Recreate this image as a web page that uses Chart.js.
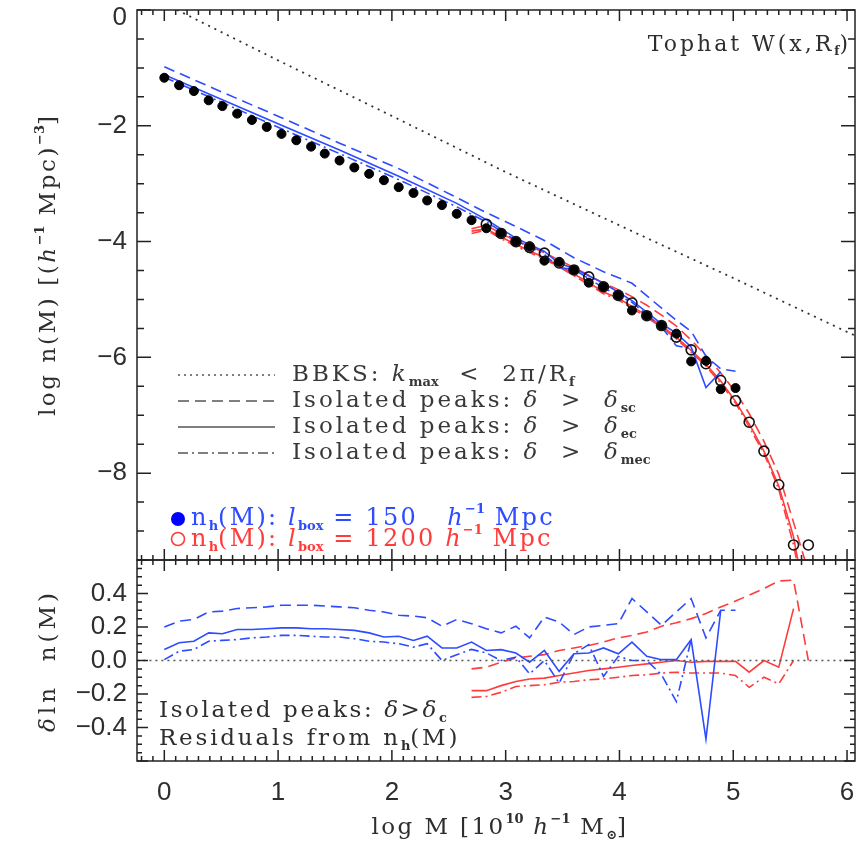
<!DOCTYPE html>
<html>
<head>
<meta charset="utf-8">
<script src="https://cdn.jsdelivr.net/npm/chart.js@4.4.1/dist/chart.umd.min.js"></script>
<style>
  html, body { margin: 0; padding: 0; background: #fff; }
  canvas { display: block; }
</style>
</head>
<body>
<canvas id="grafico" width="856" height="843"></canvas>
<script>
// mass bins, log M [1e10 h^-1 Msun]
const logM = [0.00, 0.13, 0.26, 0.39, 0.51, 0.64, 0.77, 0.90, 1.03, 1.16,
              1.29, 1.41, 1.54, 1.67, 1.80, 1.93, 2.06, 2.19, 2.31, 2.44,
              2.57, 2.70, 2.83, 2.96, 3.09, 3.21, 3.34, 3.47, 3.60, 3.73,
              3.86, 3.99, 4.11, 4.24, 4.37, 4.50, 4.63, 4.76, 4.89, 5.02,
              5.14, 5.27, 5.40, 5.53, 5.66];

// n_h(M), l_box = 150 (bins 0..39)
const nh150 = [-1.17, -1.30, -1.40, -1.56, -1.66, -1.79, -1.90, -2.02, -2.14, -2.25,
               -2.36, -2.48, -2.60, -2.72, -2.83, -2.94, -3.06, -3.16, -3.29, -3.37,
               -3.52, -3.63, -3.77, -3.85, -4.00, -4.08, -4.33, -4.35, -4.49, -4.71,
               -4.78, -4.93, -5.19, -5.28, -5.45, -5.59, -6.07, -6.06, -6.55, -6.53];
// n_h(M), l_box = 1200 (bins 22..44)
const nh1200 = [-3.70, -3.86, -4.00, -4.10, -4.20, -4.37, -4.49, -4.61, -4.78, -4.93,
                -5.06, -5.28, -5.45, -5.65, -5.87, -6.11, -6.40, -6.75, -7.12, -7.62,
                -8.20, -9.24, -9.24];

// BBKS curve
const bbksX = [0.0, 1.0, 2.0, 3.0, 4.0, 5.0, 6.0, 6.2];
const bbksY = [0.11, -0.87, -1.83, -2.80, -3.72, -4.63, -5.56, -5.74];

// isolated peaks, l_box = 150 (upper panel)
const scTopX150  = [0, 0.51, 1.03, 1.54, 2.06, 2.57, 2.83, 3.09, 3.34, 3.60, 3.86, 4.11, 4.37, 4.50, 4.63, 4.76, 4.89, 5.02];
const scTop150   = [-0.98, -1.42, -1.86, -2.30, -2.74, -3.24, -3.50, -3.74, -3.98, -4.28, -4.52, -4.72, -5.15, -5.36, -5.55, -5.98, -6.20, -6.24];
const ecTopX150  = [0, 0.51, 1.03, 1.54, 2.06, 2.57, 2.83, 3.09, 3.34, 3.47, 3.60, 3.86, 4.11, 4.37, 4.50, 4.63, 4.76, 4.89];
const ecTop150   = [-1.12, -1.55, -1.99, -2.42, -2.87, -3.34, -3.62, -3.94, -4.17, -4.38, -4.46, -4.72, -5.02, -5.42, -5.58, -5.82, -6.52, -6.25];
const mecTopX150 = [0, 0.51, 1.03, 1.54, 2.06, 2.57, 2.83, 3.09, 3.34, 3.47, 3.60, 3.86, 4.11, 4.37, 4.50, 4.63];
const mecTop150  = [-1.16, -1.60, -2.05, -2.48, -2.93, -3.40, -3.66, -3.98, -4.22, -4.45, -4.48, -4.80, -5.05, -5.48, -5.80, -5.85];

// isolated peaks, l_box = 1200 (upper panel, bins 21..44)
const scTop1200  = [-3.78, -3.72, -3.86, -3.99, -4.08, -4.19, -4.32, -4.45, -4.58, -4.72, -4.83, -4.95, -5.10, -5.27, -5.46, -5.70, -5.97, -6.27, -6.60, -6.97, -7.45, -8.02, -8.85, -9.70];
const ecTop1200  = [-3.82, -3.78, -3.92, -4.05, -4.16, -4.28, -4.42, -4.56, -4.71, -4.87, -4.98, -5.12, -5.28, -5.45, -5.65, -5.88, -6.12, -6.41, -6.76, -7.15, -7.62, -8.22, -9.10, -10.5];
const mecTop1200 = [-3.86, -3.80, -3.95, -4.08, -4.19, -4.30, -4.44, -4.59, -4.74, -4.90, -5.01, -5.15, -5.31, -5.48, -5.68, -5.91, -6.15, -6.45, -6.79, -7.20, -7.66, -8.28, -9.24, -10.5];

// residuals dln n(M), l_box = 150 (from bin 0)
const scRes150  = [0.20, 0.235, 0.245, 0.29, 0.295, 0.31, 0.315, 0.32, 0.33, 0.33,
                   0.33, 0.325, 0.32, 0.315, 0.30, 0.29, 0.27, 0.265, 0.255, 0.205,
                   0.245, 0.22, 0.19, 0.165, 0.205, 0.135, 0.26, 0.23, 0.155, 0.20,
                   0.21, 0.22, 0.37, 0.29, 0.21, 0.29, 0.37, 0.135, 0.30, 0.30];
const ecRes150  = [0.066, 0.106, 0.115, 0.165, 0.16, 0.185, 0.185, 0.19, 0.195, 0.195,
                   0.19, 0.19, 0.185, 0.18, 0.165, 0.14, 0.145, 0.12, 0.145, 0.075,
                   0.075, 0.11, 0.06, 0.065, 0.045, -0.01, 0.06, -0.065, 0.04, 0.045,
                   0.075, 0.04, 0.11, 0.025, 0.005, 0.005, 0.125, -0.47, 0.30];
const mecRes150 = [0.005, 0.055, 0.066, 0.115, 0.12, 0.125, 0.135, 0.14, 0.15, 0.15,
                   0.145, 0.14, 0.14, 0.13, 0.115, 0.11, 0.10, 0.08, 0.10, 0.0,
                   0.035, 0.066, 0.045, 0.0, 0.02, -0.08, 0.0, -0.135, 0.04, 0.095,
                   -0.095, 0.025, 0.0, 0.0, -0.085, -0.245, 0.125];

// residuals dln n(M), l_box = 1200 (from bin 21)
const scRes1200  = [-0.05, -0.04, -0.01, 0.015, 0.025, 0.035, 0.06, 0.075, 0.09, 0.11,
                    0.135, 0.15, 0.17, 0.205, 0.225, 0.25, 0.28, 0.32, 0.355, 0.39,
                    0.43, 0.475, 0.48, 0.0];
const ecRes1200  = [-0.18, -0.18, -0.15, -0.125, -0.11, -0.105, -0.09, -0.075, -0.06, -0.05,
                    -0.04, -0.03, -0.02, -0.01, 0.0, -0.01, -0.005, -0.005, -0.005, -0.07,
                    0.0, -0.04, 0.31];
const mecRes1200 = [-0.22, -0.215, -0.19, -0.155, -0.15, -0.145, -0.13, -0.125, -0.115, -0.11,
                    -0.10, -0.09, -0.085, -0.075, -0.07, -0.075, -0.075, -0.075, -0.09, -0.16,
                    -0.10, -0.14, 0.0];

const zeroX = [-0.5, 6.5];
const zeroY = [0, 0];

const BLUE = 'rgb(45, 75, 255)';
const RED = 'rgb(255, 60, 60)';
const INK = '#2e2e2e';
const SERIF = '"DejaVu Serif", "Liberation Serif", serif';
const SANS = '"Liberation Sans", Arial, sans-serif';

const DASH = [11, 6];
const DASHDOT = [10, 4, 2, 4];

// pair up x and y arrays, starting at a given bin of logM
function pts(xs, ys) {
    return ys.map((y, i) => ({ x: xs[i], y: y }));
}
function binned(start, ys) {
    return pts(logM.slice(start), ys);
}

function curve(data, axis, color, dash, width) {
    return {
        data: data, yAxisID: axis, showLine: true, borderColor: color,
        borderWidth: width || 1.6, borderDash: dash || [], pointRadius: 0,
        fill: false, tension: 0, order: 5
    };
}

const datasets = [
    curve(pts(bbksX, bbksY), 'yTop', '#333', [2, 5], 1.8),
    curve(pts(scTopX150, scTop150), 'yTop', BLUE, DASH),
    curve(pts(ecTopX150, ecTop150), 'yTop', BLUE),
    curve(pts(mecTopX150, mecTop150), 'yTop', BLUE, DASHDOT),
    curve(binned(21, scTop1200), 'yTop', RED, DASH),
    curve(binned(21, ecTop1200), 'yTop', RED),
    curve(binned(21, mecTop1200), 'yTop', RED, DASHDOT),
    {
        data: binned(0, nh150), yAxisID: 'yTop', showLine: false,
        pointRadius: 4.5, pointBackgroundColor: '#000', pointBorderColor: '#000',
        pointBorderWidth: 1, order: 2
    },
    {
        data: binned(22, nh1200), yAxisID: 'yTop', showLine: false,
        pointRadius: 5, pointBackgroundColor: 'rgba(0,0,0,0)', pointBorderColor: '#111',
        pointBorderWidth: 1.6, order: 1
    },
    curve(pts(zeroX, zeroY), 'yRes', '#555', [2, 4], 1.4),
    curve(binned(0, scRes150), 'yRes', BLUE, DASH),
    curve(binned(0, ecRes150), 'yRes', BLUE),
    curve(binned(0, mecRes150), 'yRes', BLUE, DASHDOT),
    curve(binned(21, scRes1200), 'yRes', RED, DASH),
    curve(binned(21, ecRes1200), 'yRes', RED),
    curve(binned(21, mecRes1200), 'yRes', RED, DASHDOT)
];

// text with italic pieces, sub- and superscripts
// kinds: '' normal, 'i' italic, 'b' subscript, 'p' superscript
function fontFor(k, size, family) {
    if (k === 'b' || k === 'p') return 'bold ' + Math.round(size * 0.55) + 'px ' + family;
    if (k === 'i') return 'italic ' + size + 'px ' + family;
    return size + 'px ' + family;
}
function richWidth(ctx, parts, size, family, spacing) {
    let w = 0;
    for (const [t, k] of parts) {
        ctx.font = fontFor(k, size, family);
        ctx.letterSpacing = (k === 'b' || k === 'p' ? 0 : spacing) + 'px';
        w += ctx.measureText(t).width;
    }
    return w;
}
function richText(ctx, parts, x, y, o) {
    const size = o.size, family = o.family || SERIF, spacing = o.spacing || 0;
    ctx.save();
    ctx.fillStyle = o.color || INK;
    ctx.textBaseline = 'middle';
    ctx.textAlign = 'left';
    let cx = x;
    const w = richWidth(ctx, parts, size, family, spacing);
    if (o.align === 'center') cx = x - w / 2;
    if (o.align === 'right') cx = x - w;
    for (const [t, k] of parts) {
        ctx.font = fontFor(k, size, family);
        ctx.letterSpacing = (k === 'b' || k === 'p' ? 0 : spacing) + 'px';
        let dy = 0;
        if (k === 'b') dy = size * 0.32;
        if (k === 'p') dy = -size * 0.38;
        ctx.fillText(t, cx, y + dy);
        cx += ctx.measureText(t).width;
    }
    ctx.restore();
}

// inward tick marks and frame on both panels
const frameTicks = {
    id: 'frameTicks',
    afterDatasetsDraw(chart) {
        const { ctx, chartArea: a, scales } = chart;
        const sx = scales.x;
        ctx.save();
        ctx.strokeStyle = '#222';
        ctx.lineWidth = 1.5;
        const panels = [
            ['yTop', 0.5, 4, 7, 14],
            ['yRes', 0.05, 4, 5, 11]
        ];
        for (const [id, step, every, minorLen, majorLen] of panels) {
            const s = scales[id];
            ctx.strokeRect(a.left, s.top, a.right - a.left, s.bottom - s.top);
            ctx.beginPath();
            for (let i = Math.ceil(s.min / step - 1e-6); i <= Math.floor(s.max / step + 1e-6); i++) {
                const py = s.getPixelForValue(i * step);
                const len = (i % every === 0) ? majorLen : minorLen;
                ctx.moveTo(a.left, py); ctx.lineTo(a.left + len, py);
                ctx.moveTo(a.right, py); ctx.lineTo(a.right - len, py);
            }
            for (let i = Math.ceil(sx.min / 0.1 - 1e-6); i <= Math.floor(sx.max / 0.1 + 1e-6); i++) {
                const px = sx.getPixelForValue(i * 0.1);
                const len = (i % 10 === 0) ? 11 : 5;
                ctx.moveTo(px, s.top); ctx.lineTo(px, s.top + len);
                ctx.moveTo(px, s.bottom); ctx.lineTo(px, s.bottom - len);
            }
            ctx.stroke();
        }
        ctx.restore();
    }
};

// legend, labels and axis titles
const annotations = {
    id: 'annotations',
    afterDraw(chart) {
        const { ctx, chartArea: a, scales } = chart;
        const yTop = scales.yTop, yRes = scales.yRes;

        // line legend
        const rows = [
            [[2, 4], [['BBKS: ', ''], ['k', 'i'], ['max', 'b'], ['  <  2π/R', ''], ['f', 'b']]],
            [DASH, [['Isolated peaks: ', ''], ['δ', 'i'], ['  >  ', ''], ['δ', 'i'], ['sc', 'b']]],
            [[], [['Isolated peaks: ', ''], ['δ', 'i'], ['  >  ', ''], ['δ', 'i'], ['ec', 'b']]],
            [DASHDOT, [['Isolated peaks: ', ''], ['δ', 'i'], ['  >  ', ''], ['δ', 'i'], ['mec', 'b']]]
        ];
        rows.forEach(([dash, parts], i) => {
            const y = 375 + i * 26;
            ctx.save();
            ctx.strokeStyle = '#555';
            ctx.lineWidth = 1.4;
            ctx.setLineDash(dash);
            ctx.beginPath();
            ctx.moveTo(a.left + 41, y); ctx.lineTo(a.left + 138, y);
            ctx.stroke();
            ctx.restore();
            richText(ctx, parts, a.left + 155, y, { size: 23, spacing: 3.0, color: '#383838' });
        });

        // simulation symbols
        ctx.save();
        ctx.fillStyle = 'rgb(0, 0, 255)';
        ctx.beginPath(); ctx.arc(178, 519, 7, 0, Math.PI * 2); ctx.fill();
        ctx.strokeStyle = RED; ctx.lineWidth = 1.6;
        ctx.beginPath(); ctx.arc(178, 539, 6.5, 0, Math.PI * 2); ctx.stroke();
        ctx.restore();
        richText(ctx, [['n', ''], ['h', 'b'], ['(M): ', ''], ['l', 'i'], ['box', 'b'], [' = 150   ', ''], ['h', 'i'], ['−1', 'p'], [' Mpc', '']],
                 191, 519, { size: 24, spacing: 2.2, color: BLUE });
        richText(ctx, [['n', ''], ['h', 'b'], ['(M): ', ''], ['l', 'i'], ['box', 'b'], [' = 1200 ', ''], ['h', 'i'], ['−1', 'p'], [' Mpc', '']],
                 191, 540, { size: 24, spacing: 2.2, color: RED });

        // filter label, top right
        richText(ctx, [['Tophat W(x,R', ''], ['f', 'b'], [')', '']], a.right - 4, 45, { size: 22, spacing: 3, align: 'right' });

        // residual panel note
        richText(ctx, [['Isolated peaks: ', ''], ['δ', 'i'], ['>', ''], ['δ', 'i'], ['c', 'b']], 159, 711, { size: 23, spacing: 2.6 });
        richText(ctx, [['Residuals from n', ''], ['h', 'b'], ['(M)', '']], 159, 739, { size: 23, spacing: 2.8 });

        // axis titles
        ctx.save();
        ctx.translate(49, yTop.getPixelForValue(-4.4));
        ctx.rotate(-Math.PI / 2);
        richText(ctx, [['log n(M) [(', ''], ['h', 'i'], ['−1', 'p'], [' Mpc)', ''], ['−3', 'p'], [']', '']], 0, 0, { size: 23, spacing: 2.6, align: 'center' });
        ctx.restore();
        ctx.save();
        ctx.translate(49, yRes.getPixelForValue(0.0));
        ctx.rotate(-Math.PI / 2);
        richText(ctx, [['δ', 'i'], ['ln  n(M)', '']], 0, 0, { size: 23, spacing: 4, align: 'center' });
        ctx.restore();
        richText(ctx, [['log M [10', ''], ['10', 'p'], [' ', ''], ['h', 'i'], ['−1', 'p'], [' M', ''], ['⊙', 'b'], [']', '']],
                 (a.left + a.right) / 2 + 4, 828, { size: 23, spacing: 2.4, align: 'center' });
    }
};

const tickFont = { family: SANS, size: 26 };

new Chart(document.getElementById('grafico'), {
    type: 'scatter',
    data: { datasets: datasets },
    plugins: [frameTicks, annotations],
    options: {
        responsive: false,
        animation: false,
        events: [],
        layout: { autoPadding: false, padding: { top: 10, right: 1, left: 0, bottom: 0 } },
        plugins: { legend: { display: false }, tooltip: { enabled: false } },
        scales: {
            x: {
                type: 'linear', min: -0.24, max: 6.07,
                grid: { display: false, drawTicks: false },
                border: { display: false },
                ticks: {
                    stepSize: 1, includeBounds: false, padding: 16, maxRotation: 0,
                    font: tickFont, color: INK,
                    callback: v => String(v)
                },
                afterFit: s => { s.height = 82; s.paddingLeft = 0; s.paddingRight = 0; }
            },
            yRes: {
                type: 'linear', position: 'left', stack: 'panels', stackWeight: 201, weight: 1,
                min: -0.6, max: 0.6,
                grid: { display: false, drawTicks: false },
                border: { display: false },
                ticks: {
                    stepSize: 0.2, includeBounds: false, autoSkip: false, padding: 10,
                    font: tickFont, color: INK,
                    callback: v => Math.abs(v) > 0.5 ? '' : (v < -1e-9 ? '−' : '') + Math.abs(v).toFixed(1)
                },
                afterFit: s => { s.width = 137; s.paddingTop = 0; s.paddingBottom = 0; }
            },
            yTop: {
                type: 'linear', position: 'left', stack: 'panels', stackWeight: 550, weight: 2,
                min: -9.5, max: 0,
                grid: { display: false, drawTicks: false },
                border: { display: false },
                ticks: {
                    stepSize: 2, includeBounds: false, autoSkip: false, padding: 10,
                    // the top label sits just below the frame
                    font: c => (c.tick && c.tick.value === 0) ? { family: SANS, size: 26, lineHeight: 0.62 } : tickFont,
                    color: INK,
                    callback: v => v === 0 ? ['', '0'] : '−' + Math.abs(v)
                },
                afterFit: s => { s.width = 137; s.paddingTop = 0; s.paddingBottom = 0; }
            }
        }
    }
});
</script>
</body>
</html>
